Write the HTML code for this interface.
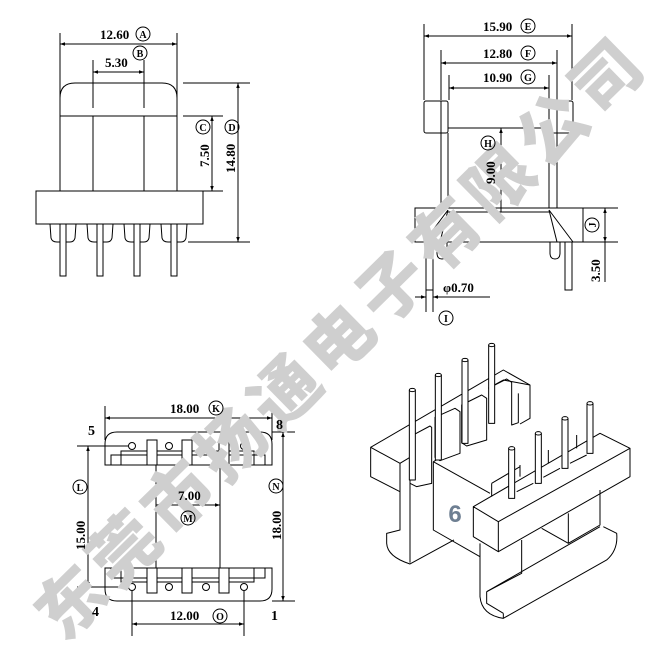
<!DOCTYPE html>
<html><head><meta charset="utf-8"><style>
html,body{margin:0;padding:0;background:#fff;}
svg{display:block;}
text{font-family:"Liberation Serif",serif;font-weight:bold;fill:#000;}
</style></head><body>
<svg width="654" height="667" viewBox="0 0 654 667" xmlns="http://www.w3.org/2000/svg">
<defs>
<marker id="ar" viewBox="0 0 10 10" refX="10" refY="5" markerWidth="6" markerHeight="5" orient="auto-start-reverse"><path d="M0,1.5 L10,5 L0,8.5 Z" fill="#000"/></marker>
</defs>
<g stroke="#000" stroke-width="1" fill="none">
<line x1="60" y1="33" x2="60" y2="98"/><line x1="177" y1="33" x2="177" y2="98"/>
<line x1="60" y1="44" x2="177" y2="44" marker-start="url(#ar)" marker-end="url(#ar)"/>
<line x1="93" y1="60" x2="93" y2="108"/><line x1="144" y1="60" x2="144" y2="108"/>
<line x1="93" y1="72" x2="144" y2="72" marker-start="url(#ar)" marker-end="url(#ar)"/>
<path d="M60,191 L60,98 Q60,83 75,83 L162,83 Q177,83 177,98 L177,191"/>
<line x1="60" y1="116" x2="177" y2="116"/>
<line x1="93" y1="116" x2="93" y2="191"/><line x1="144" y1="116" x2="144" y2="191"/>
<rect x="36" y="191" width="167" height="33"/>
<path d="M50,224 L51,238 Q52,242 57,242 L60,242 M66,242 L70,242 Q74,242 75,238 L76,224"/>
<path d="M87,224 L88,238 Q89,242 94,242 L97,242 M103,242 L107,242 Q111,242 112,238 L113,224"/>
<path d="M124,224 L125,238 Q126,242 131,242 L134,242 M140,242 L144,242 Q148,242 149,238 L150,224"/>
<path d="M161,224 L162,238 Q163,242 168,242 L171,242 M177,242 L181,242 Q185,242 186,238 L187,224"/>
<rect x="60" y="224" width="6" height="52"/><rect x="97" y="224" width="6" height="52"/>
<rect x="134" y="224" width="6" height="52"/><rect x="171" y="224" width="6" height="52"/>
<line x1="183" y1="83" x2="250" y2="83"/><line x1="188" y1="242" x2="250" y2="242"/>
<line x1="238" y1="83" x2="238" y2="242" marker-start="url(#ar)" marker-end="url(#ar)"/>
<line x1="183" y1="116" x2="223" y2="116"/><line x1="203" y1="191" x2="223" y2="191"/>
<line x1="212" y1="116" x2="212" y2="191" marker-start="url(#ar)" marker-end="url(#ar)"/>

<line x1="424" y1="24" x2="424" y2="100"/><line x1="572" y1="24" x2="572" y2="100"/>
<line x1="424" y1="36" x2="572" y2="36" marker-start="url(#ar)" marker-end="url(#ar)"/>
<line x1="441" y1="50" x2="441" y2="100"/><line x1="557" y1="50" x2="557" y2="100"/>
<line x1="441" y1="63" x2="557" y2="63" marker-start="url(#ar)" marker-end="url(#ar)"/>
<line x1="449" y1="75" x2="449" y2="100"/><line x1="549" y1="75" x2="549" y2="100"/>
<line x1="449" y1="88" x2="549" y2="88" marker-start="url(#ar)" marker-end="url(#ar)"/>
<rect x="424" y="101" width="24" height="32" rx="2"/>
<rect x="549" y="101" width="24" height="32" rx="2"/>
<line x1="448" y1="128" x2="549" y2="128"/>
<line x1="441" y1="101" x2="441" y2="208"/><line x1="448" y1="133" x2="448" y2="208"/>
<line x1="557" y1="101" x2="557" y2="208"/><line x1="549" y1="133" x2="549" y2="208"/>
<line x1="501" y1="128" x2="501" y2="212" marker-start="url(#ar)"/>
<rect x="415" y="208" width="168" height="34"/>
<line x1="448" y1="212" x2="549" y2="212"/>
<path d="M448,210 L424,242 M448,210 L440,242"/>
<path d="M549,210 L573,242 M549,210 L557,242"/>
<path d="M437,242 L437,253 Q437,259 442,259 Q447,259 447,253 L447,242"/>
<path d="M550,242 L550,253 Q550,259 555,259 Q560,259 560,253 L560,242"/>
<rect x="426" y="242" width="7" height="48"/><rect x="565" y="242" width="7" height="48"/>
<line x1="583" y1="208" x2="618" y2="208"/><line x1="583" y1="242" x2="618" y2="242"/>
<line x1="605" y1="208" x2="605" y2="242" marker-start="url(#ar)" marker-end="url(#ar)"/>
<line x1="605" y1="242" x2="605" y2="282"/>
<line x1="426" y1="290" x2="426" y2="312"/><line x1="433" y1="290" x2="433" y2="312"/>
<line x1="415" y1="297" x2="426" y2="297" marker-end="url(#ar)"/>
<line x1="433" y1="297" x2="490" y2="297" marker-start="url(#ar)"/>

<line x1="105" y1="406" x2="105" y2="440"/><line x1="272" y1="406" x2="272" y2="440"/>
<line x1="105" y1="418" x2="272" y2="418" marker-start="url(#ar)" marker-end="url(#ar)"/>
<path d="M105,465 L105,444 Q105,432 117,432 L260,432 Q272,432 272,444 L272,465 Z"/>
<path d="M111,465 L111,455 L121,455 L121,465 M121,455 L121,451 L147,451 M157,451 L182,451 M192,451 L219,451 M229,451 L254,451 L254,455 L265,455 L265,465 M254,455 L254,465 M121,455 L147,455 M157,455 L182,455 M192,455 L219,455 M229,455 L254,455"/>
<rect x="147" y="440" width="10" height="25"/><rect x="182" y="440" width="10" height="25"/><rect x="219" y="440" width="10" height="25"/>
<circle cx="132" cy="446" r="3.5"/><circle cx="169" cy="446" r="3.5"/><circle cx="206" cy="446" r="3.5"/><circle cx="244" cy="446" r="3.5"/>
<line x1="156" y1="465" x2="156" y2="568"/><line x1="220" y1="465" x2="220" y2="568"/>
<line x1="156" y1="505" x2="220" y2="505" marker-start="url(#ar)" marker-end="url(#ar)"/>
<path d="M105,568 L105,589 Q105,601 117,601 L260,601 Q272,601 272,589 L272,568 Z"/>
<path d="M111,568 L111,578 L121,578 L121,568 M121,578 L121,582 L147,582 M157,582 L182,582 M192,582 L219,582 M229,582 L254,582 L254,578 L265,578 L265,568 M254,578 L254,568 M121,578 L147,578 M157,578 L182,578 M192,578 L219,578 M229,578 L254,578"/>
<rect x="147" y="568" width="10" height="25"/><rect x="182" y="568" width="10" height="25"/><rect x="219" y="568" width="10" height="25"/>
<circle cx="132" cy="587" r="3.5"/><circle cx="169" cy="587" r="3.5"/><circle cx="206" cy="587" r="3.5"/><circle cx="244" cy="587" r="3.5"/>
<line x1="77" y1="446" x2="128" y2="446"/><line x1="77" y1="587" x2="128" y2="587"/>
<line x1="88" y1="446" x2="88" y2="587" marker-start="url(#ar)" marker-end="url(#ar)"/>
<line x1="272" y1="432" x2="295" y2="432"/><line x1="272" y1="601" x2="295" y2="601"/>
<line x1="283" y1="432" x2="283" y2="601" marker-start="url(#ar)" marker-end="url(#ar)"/>
<line x1="132" y1="591" x2="132" y2="636"/><line x1="244" y1="591" x2="244" y2="636"/>
<line x1="132" y1="624" x2="244" y2="624" marker-start="url(#ar)" marker-end="url(#ar)"/>
</g>

<g transform="translate(360,340) scale(0.33333)" stroke="#000" stroke-width="3" fill="none" stroke-linejoin="round">
<path d="M32,322 L430,90 L510,135 L510,235 L480,252"/>
<path d="M385,145 L430,120 L510,135"/>
<path d="M32,322 L32,410 L120,455 L120,370 Z"/>
<path d="M120,370 L150,352"/>
<path d="M120,455 L120,570 L80,580 L80,610 Q82,650 150,672 L282,600"/>
<path d="M150,430 L150,668"/>
<path d="M220,365 L220,570 L360,650"/>
<path d="M220,365 L390,460"/>
<path d="M220,365 L300,320"/>
<path d="M455,150 L455,255 L475,248 L475,160"/>
<path d="M340,500 L340,590 L415,635 L415,545 Z"/>
<path d="M340,500 L720,280 L810,325 L415,545"/>
<path d="M415,635 L810,410 L810,325"/>
<path d="M360,610 L360,770 Q365,825 430,835 L740,660 Q775,630 770,580 L730,560"/>
<path d="M380,755 L380,790 L430,820 M380,755 L720,560 M430,820 L430,835"/>
<path d="M485,600 L485,700 L380,755"/>
<path d="M545,565 L625,610 L720,555 L720,450"/>
<path d="M625,520 L625,610"/>
<path d="M150,290 L210,258 L215,262 L215,430 L170,440 L150,430 Z" fill="#fff"/>
<path d="M225,232 L285,205 L300,215 L300,340 L240,362 L225,352 Z" fill="#fff"/>
<path d="M305,195 L365,165 L380,175 L380,300 L320,318 L305,308 Z" fill="#fff"/>
<path d="M385,145 L440,117 L455,127 L455,150"/>
<path d="M395,430 L480,380 M395,430 L395,470 M480,375 L480,410 M565,330 L565,370 M650,285 L650,325"/>
<path d="M470,455 L520,430 M550,412 L600,385 M630,370 L680,345"/>
<g fill="#fff">
<path d="M148,150 L148,420 L166,420 L166,150"/><ellipse cx="157" cy="150" rx="9" ry="5"/>
<path d="M226,105 L226,360 L244,360 L244,105"/><ellipse cx="235" cy="105" rx="9" ry="5"/>
<path d="M306,60 L306,310 L324,310 L324,60"/><ellipse cx="315" cy="60" rx="9" ry="5"/>
<path d="M386,15 L386,250 L404,250 L404,15"/><ellipse cx="395" cy="15" rx="9" ry="5"/>
<path d="M446,325 L446,475 L464,475 L464,325"/><ellipse cx="455" cy="325" rx="9" ry="5"/>
<path d="M526,280 L526,430 L544,430 L544,280"/><ellipse cx="535" cy="280" rx="9" ry="5"/>
<path d="M606,235 L606,385 L624,385 L624,235"/><ellipse cx="615" cy="235" rx="9" ry="5"/>
<path d="M681,190 L681,340 L699,340 L699,190"/><ellipse cx="690" cy="190" rx="9" ry="5"/>
</g>
</g>

<text x="342" y="338" text-anchor="middle" dominant-baseline="central" transform="rotate(-44.5 342 338)" style="font-family:'Liberation Sans','Noto Sans CJK SC',sans-serif;font-weight:900;font-size:68px;letter-spacing:7px;fill:#cfcfcf">东莞市扬通电子有限公司</text>

<g>
<text x="100" y="39" font-size="13">12.60</text>
<text x="105" y="67" font-size="13">5.30</text>
<text x="483" y="31" font-size="13">15.90</text>
<text x="483" y="58" font-size="13">12.80</text>
<text x="483" y="82" font-size="13">10.90</text>
<text x="443" y="292" font-size="13">φ0.70</text>
<text x="170" y="413" font-size="13">18.00</text>
<text x="178" y="500" font-size="13">7.00</text>
<text x="170" y="620" font-size="13">12.00</text>
<text x="88" y="435" font-size="14">5</text>
<text x="276" y="429" font-size="14">8</text>
<text x="92" y="616" font-size="14">4</text>
<text x="271" y="620" font-size="14">1</text>
<text transform="translate(209,167) rotate(-90)" font-size="13">7.50</text>
<text transform="translate(235,173) rotate(-90)" font-size="13">14.80</text>
<text transform="translate(495,184) rotate(-90)" font-size="13">9.00</text>
<text transform="translate(600,282) rotate(-90)" font-size="13">3.50</text>
<text transform="translate(85,550) rotate(-90)" font-size="13">15.00</text>
<text transform="translate(281,540) rotate(-90)" font-size="13">18.00</text>
</g>
<g stroke="#000" stroke-width="1" fill="none">
<circle cx="143" cy="34" r="7"/><circle cx="140" cy="53" r="7"/><circle cx="203" cy="127" r="7"/><circle cx="232" cy="127" r="7"/>
<circle cx="528" cy="26" r="7"/><circle cx="528" cy="53" r="7"/><circle cx="528" cy="77" r="7"/><circle cx="488" cy="143" r="7"/><circle cx="592" cy="225" r="7"/><circle cx="446" cy="318" r="7"/>
<circle cx="216" cy="408" r="7"/><circle cx="80" cy="487" r="7"/><circle cx="188" cy="518" r="7"/><circle cx="276" cy="486" r="7"/><circle cx="220" cy="616" r="7"/>
</g>
<g text-anchor="middle">
<text x="143" y="38" font-size="10">A</text><text x="140" y="57" font-size="10">B</text><text x="203" y="131" font-size="10">C</text><text x="232" y="131" font-size="10">D</text>
<text x="528" y="30" font-size="10">E</text><text x="528" y="57" font-size="10">F</text><text x="528" y="81" font-size="10">G</text><text x="488" y="147" font-size="10">H</text>
<text transform="translate(596,225) rotate(-90)" font-size="10">J</text><text x="446" y="322" font-size="10">I</text>
<text x="216" y="412" font-size="10">K</text><text x="80" y="491" font-size="10">L</text><text x="188" y="522" font-size="10">M</text><text x="276" y="490" font-size="10">N</text><text x="220" y="620" font-size="10">O</text>
</g>
<text x="455" y="522" text-anchor="middle" style="font-family:'Liberation Sans',sans-serif;font-weight:bold;fill:#6e7f92;font-size:24px">6</text>
</svg>
</body></html>
